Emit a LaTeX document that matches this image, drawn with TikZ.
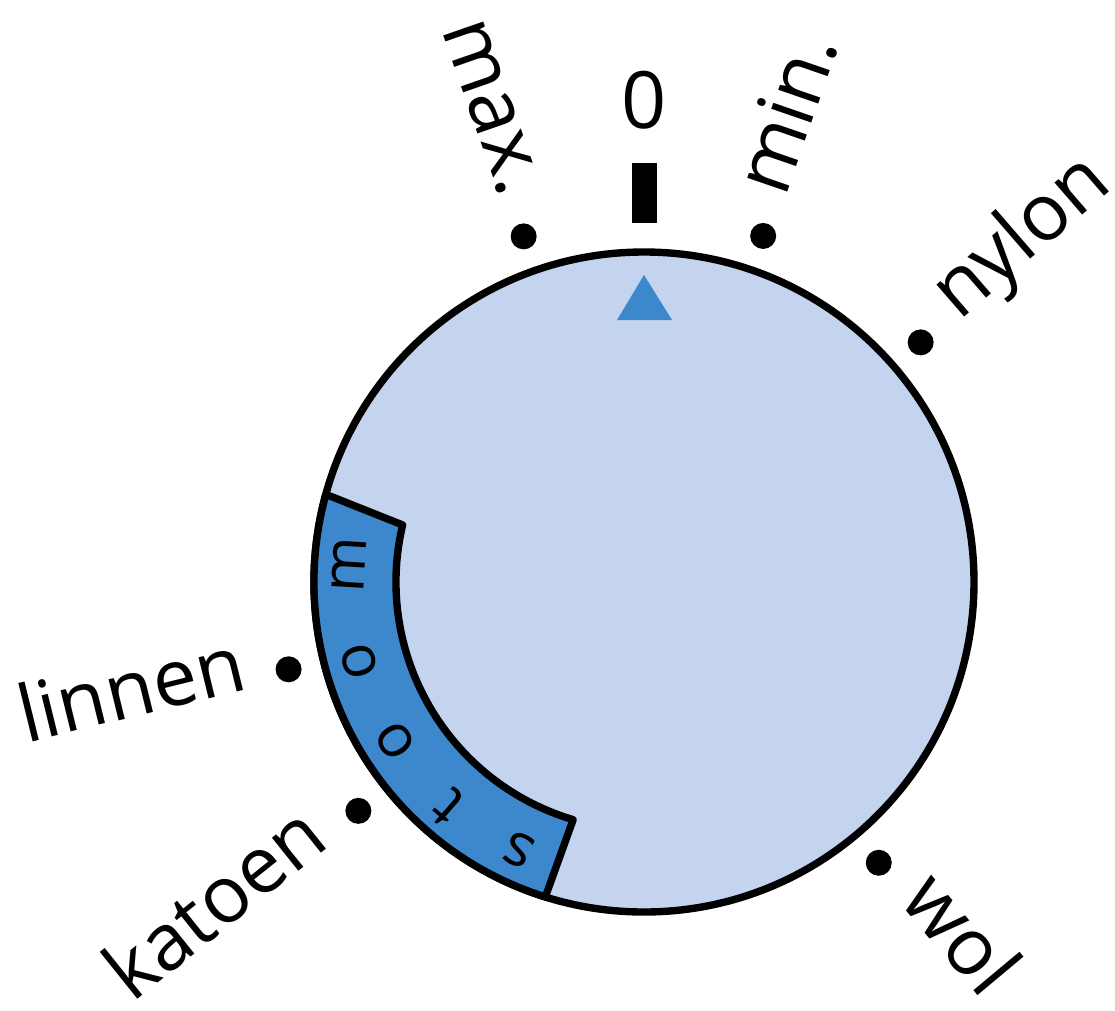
\documentclass[tikz,border=0pt]{standalone}
\usepackage{fontspec}
\setmainfont{Open Sans}
\usetikzlibrary{positioning}
\definecolor{dialfill}{RGB}{197,212,238}
\definecolor{dialblue}{RGB}{61,135,204}

\begin{document}
\begin{tikzpicture}[
  font=\fontsize{22.5}{27}\selectfont,
  dot/.style={circle, fill=black, inner sep=0pt, minimum size=2.6mm},
  lbl/.style={inner xsep=0pt, inner ysep=1pt},
  letter/.style={font=\fontsize{17}{20}\selectfont, inner sep=0pt, anchor=mid},
  rim/.style={line width=2.1pt}]

\useasboundingbox (-6.44,-4.28) rectangle (4.71,5.82);

% dial
\coordinate (c) at (0,0);
\draw[rim, fill=dialfill] (c) circle (3.30);

% steam band
\draw[rim, fill=dialblue, line join=round]
  (164.6:3.30) arc[start angle=164.6, end angle=252.6, radius=3.30]
  -- (253.4:2.48) arc[start angle=253.4, end angle=166.7, radius=2.48] -- cycle;
\foreach \ch/\a [count=\i] in {s/245, t/229, o/212.6, o/195.6, m/176.6}
  \node[letter, rotate=\a-90] (st\i) at (\a:2.89) {\ch};

% pointer and zero mark
\fill[dialblue] (-0.27,2.62) -- (0.28,2.62) -- (0,3.07) -- cycle;
\node[fill=black, inner sep=0pt, minimum width=2.5mm, minimum height=6mm] (bar) at (0.005,3.89) {};
\node (zero) at (0,4.82) {0};

% settings reading outward
\foreach \nm/\a/\txt in {min/71/min., nylon/40.9/nylon, wol/-50.1/wol} {
  \node[dot] (d-\nm) at (\a:3.66) {};
  \node[lbl, rotate=\a, anchor=mid west] (l-\nm) at (\a:4.08) {\txt};
}
% settings reading inward
\foreach \nm/\a/\txt in {max/109.2/max., linnen/193.8/linnen, katoen/218.7/katoen} {
  \node[dot] (d-\nm) at (\a:3.66) {};
  \node[lbl, rotate=\a-180, anchor=mid east] (l-\nm) at (\a:4.08) {\txt};
}
\end{tikzpicture}
\end{document}
